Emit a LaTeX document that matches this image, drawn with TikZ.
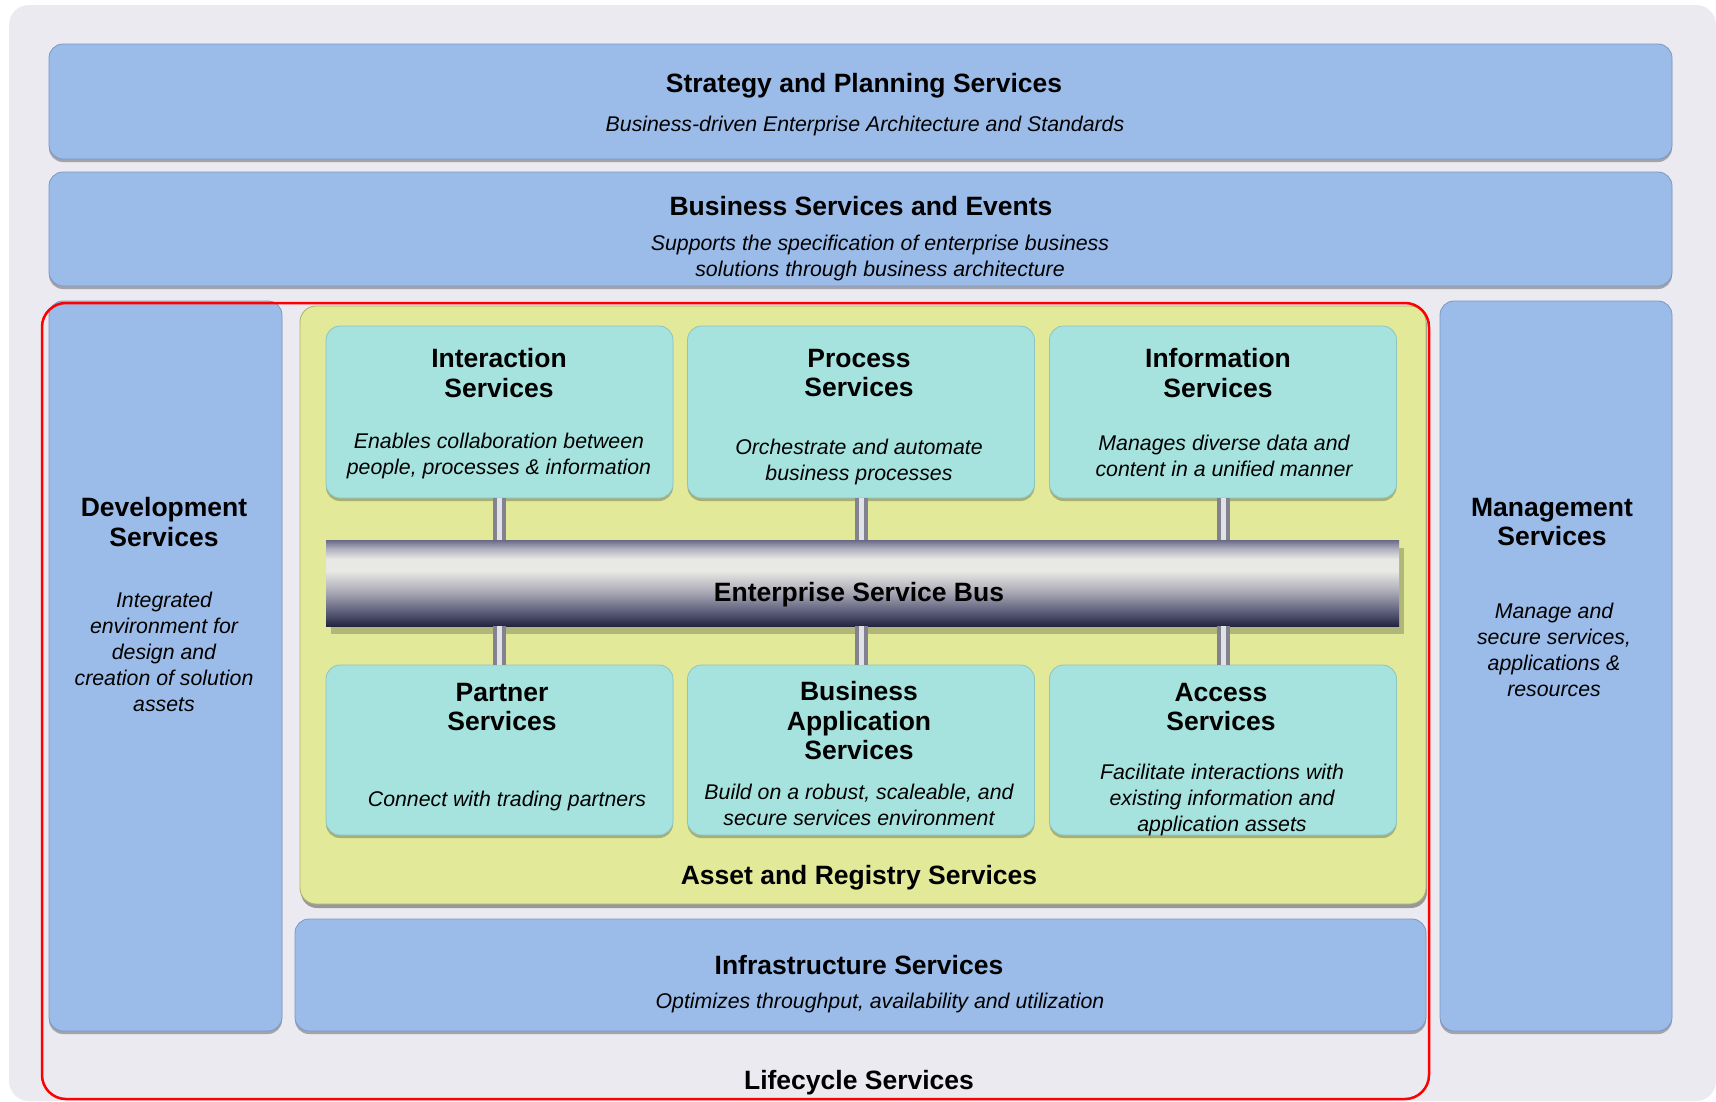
\documentclass[tikz,border=0pt]{standalone}
\usepackage{fontspec}
\setmainfont{Liberation Sans}
\usetikzlibrary{shadows}
\definecolor{bgray}{RGB}{235,234,240}
\definecolor{sblue}{RGB}{155,188,233}
\definecolor{sblueedge}{RGB}{125,150,195}
\definecolor{steal}{RGB}{166,227,223}
\definecolor{stealedge}{RGB}{140,195,195}
\definecolor{syellow}{RGB}{226,234,154}
\definecolor{syellowedge}{RGB}{170,175,110}
\definecolor{e1}{RGB}{35,37,65}
\definecolor{e2}{RGB}{90,92,120}
\definecolor{e3}{RGB}{170,170,182}
\definecolor{e4}{RGB}{232,232,228}
\definecolor{e5}{RGB}{175,175,190}
\definecolor{e6}{RGB}{105,105,135}
\definecolor{barout}{RGB}{130,130,145}
\definecolor{barin}{RGB}{225,225,232}
\pgfdeclareverticalshading{esbshade}{100bp}{color(0bp)=(e1); color(25bp)=(e1); color(33bp)=(e2); color(45bp)=(e3); color(57bp)=(e4); color(64bp)=(e4); color(70bp)=(e5); color(75bp)=(e6); color(100bp)=(e6)}
\tikzset{
  panel/.style={fill=sblue, draw=sblueedge, line width=0.8pt, rounded corners=14pt, inner sep=0pt,
    drop shadow={shadow xshift=0pt, shadow yshift=-3pt, opacity=0.3, fill=black}},
  yellowpanel/.style={fill=syellow, draw=syellowedge, line width=0.8pt, rounded corners=16pt, inner sep=0pt,
    drop shadow={shadow xshift=1pt, shadow yshift=-4pt, opacity=0.35, fill=black}},
  card/.style={fill=steal, draw=stealedge, line width=0.8pt, rounded corners=14pt, inner sep=0pt,
    minimum width=347pt, drop shadow={shadow xshift=0pt, shadow yshift=-3pt, opacity=0.25, fill=black}},
  title/.style={font=\bfseries\fontsize{26.5}{29.5}\selectfont, align=center, inner sep=0pt},
  sub/.style={font=\itshape\fontsize{21.3}{26}\selectfont, align=center, inner sep=0pt},
  barouter/.style={line width=13pt, draw=barout},
  barinner/.style={line width=5pt, draw=barin},
  lifeframe/.style={draw=red, line width=2.5pt, rounded corners=24pt}
}
\begin{document}
\begin{tikzpicture}[x=1pt,y=-1pt]
\useasboundingbox (0,0) rectangle (1716,1101);
\fill[white] (0,0) rectangle (1716,1101);
\fill[bgray, rounded corners=20pt] (9,5) rectangle (1716,1101);

% outer panels
\node[panel, minimum width=1623pt, minimum height=115pt] (strat) at (860.5,101.5) {};
\node[panel, minimum width=1623pt, minimum height=114pt] (biz) at (860.5,229) {};
\node[panel, minimum width=233pt, minimum height=730pt] (dev) at (165.5,666) {};
\node[panel, minimum width=232pt, minimum height=730pt] (mgmt) at (1556,666) {};
\node[yellowpanel, minimum width=1126pt, minimum height=598pt] (asset) at (863,605) {};
\node[panel, minimum width=1131pt, minimum height=112pt] (infra) at (860.5,975) {};

% cards
\node[card, minimum height=172pt] (int) at (499.5,412) {};
\node[card, minimum height=172pt] (proc) at (861,412) {};
\node[card, minimum height=172pt] (info) at (1223,412) {};
\node[card, minimum height=170pt] (part) at (499.5,750) {};
\node[card, minimum height=170pt] (bapp) at (861,750) {};
\node[card, minimum height=170pt] (acc) at (1223,750) {};

% ESB bar
\node[minimum width=1073pt, minimum height=86pt, inner sep=0pt, shading=esbshade,
  drop shadow={shadow xshift=5pt, shadow yshift=-8pt, opacity=0.3, fill=black!70!olive}] (esb) at (862.5,583) {};

% connectors
\foreach \c in {int,proc,info}{
  \draw[barouter] (\c.south) -- (\c.south |- esb.north);
  \draw[barinner] (\c.south) -- (\c.south |- esb.north);
}
\foreach \c in {part,bapp,acc}{
  \draw[barouter] (\c.north) -- (\c.north |- esb.south);
  \draw[barinner] (\c.north) -- (\c.north |- esb.south);
}

% texts
\node[title] (tstrat) at (864,86) {Strategy and Planning Services};
\node[sub] (sstrat) at (865,126) {Business-driven Enterprise Architecture and Standards};
\node[title] (tbiz) at (861,206) {Business Services and Events};
\node[sub] (sbiz) at (880,258) {Supports the specification of enterprise business\\solutions through business architecture};

\node[title] (tdev) at (164,522) {Development\\Services};
\node[sub] (sdev) at (164,652) {Integrated\\environment for\\design and\\creation of solution\\assets};
\node[title] (tmgmt) at (1552,522) {Management\\Services};
\node[sub] (smgmt) at (1554,650) {Manage and\\secure services,\\applications \&\\resources};

\node[title] (tint) at (499,373) {Interaction\\Services};
\node[sub] (sint) at (499,456) {Enables collaboration between\\people, processes \& information};
\node[title] (tproc) at (859,373) {Process\\Services};
\node[sub] (sproc) at (859,462) {Orchestrate and automate\\business processes};
\node[title] (tinfo) at (1218,373) {Information\\Services};
\node[sub] (sinfo) at (1224,456) {Manages diverse data and\\content in a unified manner};

\node[title] (tesb) at (859,595) {Enterprise Service Bus};

\node[title] (tpart) at (502,707) {Partner\\Services};
\node[sub] (spart) at (507,801) {Connect with trading partners};
\node[title] (tbapp) at (859,721) {Business\\Application\\Services};
\node[sub] (sbapp) at (859,805) {Build on a robust, scaleable, and\\secure services environment};
\node[title] (tacc) at (1221,707) {Access\\Services};
\node[sub] (sacc) at (1222,800) {Facilitate interactions with\\existing information and\\application assets};

\node[title] (tasset) at (859,878) {Asset and Registry Services};
\node[title] (tinfra) at (859,965) {Infrastructure Services};
\node[sub] (sinfra) at (880,1003) {Optimizes throughput, availability and utilization};

% lifecycle frame
\draw[lifeframe] (42,303) rectangle (1429,1099);
\node[title] (tlife) at (859,1083) {Lifecycle Services};
\end{tikzpicture}
\end{document}
